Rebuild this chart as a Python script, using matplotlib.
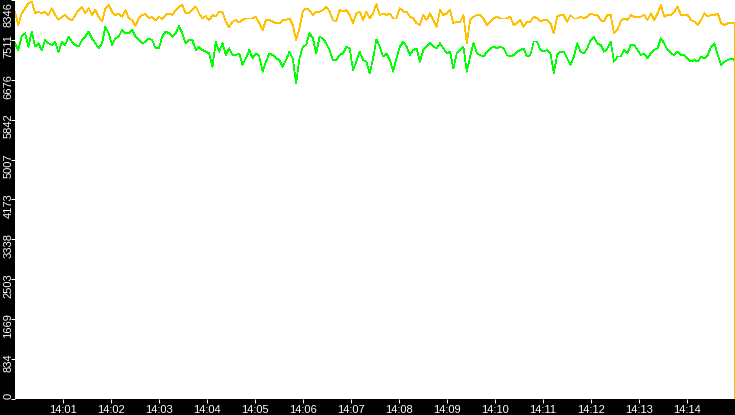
import numpy as np
import matplotlib
matplotlib.use('Agg')
import matplotlib.pyplot as plt
from matplotlib.transforms import offset_copy

plt.rcParams['font.family'] = ['Liberation Sans', 'DejaVu Sans']

# values, one sample every ~4 s from 14:00:00
orange = [
    8102, 7823, 8067, 8172, 8276, 8311, 8067, 8102, 8067, 8102,
    8032, 8172, 8032, 7928, 7997, 8032, 7962, 7914, 8032, 8137,
    8207, 8067, 8172, 8032, 8137, 7997, 7893, 8172, 8241, 8102,
    8032, 8067, 7997, 8137, 7962, 7928, 7802, 7962, 8032, 8053,
    7962, 7997, 7914, 7997, 7942, 8032, 8067, 8032, 8137, 8207,
    8241, 8067, 8067, 8137, 8207, 8067, 7962, 8011, 7914, 8032,
    7997, 8102, 8102, 7893, 7774, 7893, 7928, 7872, 7928, 7962,
    7962,
    7962, 7997, 7858, 7718, 7928, 7928, 7893, 7858, 7858, 7928,
    7928, 7962, 7823, 7509, 7753, 8102, 8172, 8137, 8032, 8102,
    8102, 8137, 8207, 8102, 7928, 7893, 8137, 8102, 8137, 8032,
    7858,
    8067, 8102, 7928, 8102, 7962, 8067, 8262, 8032, 8067, 8032,
    8067, 7962, 7962, 8172, 8102, 8102, 7997, 7962, 7858, 7823,
    8032, 7928, 8067, 7928, 7788, 8137, 8032, 8067, 8137, 7858,
    7893,
    7893, 8032, 7440, 7928, 7997, 8032, 8032, 7962, 7823, 7893,
    7962, 7997, 7962, 7962, 7962, 7997, 7823, 7858, 7928, 7788,
    7893, 7893, 7997, 7962, 7893, 7928, 7928, 7858, 7649, 7997,
    8032,
    8032, 7893, 8032, 7962, 7962, 7997, 7962, 7997, 8067, 8032,
    8032, 7928, 7893, 8032, 8032, 7649, 7718, 7893, 7962, 7928,
    8032, 7997, 7997, 7997, 8032, 7928, 8067, 7928, 8067, 8241,
    7997, 8032, 8032, 8102, 8207, 8032, 8032, 8032, 7928, 7893,
    7823, 7928, 8067, 7997, 8032, 8032, 8067, 7858, 7823, 7858,
    7858, 7858,
]

green = [
    7440, 7300, 7579, 7649, 7370, 7684, 7370, 7440, 7300, 7509,
    7440, 7405, 7475, 7265, 7475, 7405, 7579, 7475, 7405, 7370,
    7509, 7579, 7684, 7544, 7440, 7335, 7440, 7788, 7649, 7405,
    7544, 7579, 7718, 7649, 7649, 7718, 7579, 7509, 7440, 7475,
    7544, 7509, 7335, 7335, 7579, 7684, 7649, 7579, 7649, 7802,
    7649, 7440, 7509, 7509, 7300, 7370, 7300, 7265, 7230, 6951,
    7475, 7265, 7440, 7195, 7335, 7195, 7195, 7230, 6986, 7126,
    7300,
    7126, 7230, 7161, 6847, 7056, 7230, 7195, 7126, 7091, 6951,
    7091, 7265, 7126, 6603, 7126, 7370, 7405, 7649, 7544, 7230,
    7579, 7544, 7440, 7300, 7091, 7091, 7195, 7230, 7370, 7335,
    6882,
    7056, 7265, 7091, 7056, 6812, 7126, 7523, 7370, 7161, 7230,
    7091, 6847, 7126, 7370, 7475, 7370, 7195, 7300, 7335, 7056,
    7300, 7370, 7440, 7370, 7335, 7440, 7335, 7230, 7265, 6917,
    7230,
    7300, 7370, 6847, 7161, 7440, 7230, 7195, 7161, 7265, 7335,
    7370, 7335, 7370, 7335, 7195, 7161, 7195, 7265, 7300, 7335,
    7161, 7195, 7475, 7475, 7300, 7265, 7300, 7230, 6812, 7195,
    7265,
    7265, 7126, 6986, 7161, 7440, 7265, 7230, 7335, 7509, 7565,
    7440, 7405, 7265, 7335, 7475, 7056, 7161, 7161, 7300, 7230,
    7405, 7405, 7300, 7195, 7230, 7126, 7230, 7300, 7335, 7544,
    7440, 7300, 7230, 7195, 7265, 7195, 7195, 7126, 7056, 7091,
    7056, 7161, 7126, 7195, 7370, 7440, 7195, 6986, 7056, 7091,
    7126, 7091,
]

# last sample: both series fall off at the right edge
orange_end = 0
green_end = 3514

y_ticks = [0, 834, 1669, 2503, 3338, 4173, 5007, 5842, 6676, 7511, 8346]
x_ticks = [60, 120, 180, 240, 300, 360, 420, 480, 540, 600, 660, 720, 780, 840]
x_labels = ['14:01', '14:02', '14:03', '14:04', '14:05', '14:06', '14:07',
            '14:08', '14:09', '14:10', '14:11', '14:12', '14:13', '14:14']

t_last = 899.375
t_o = np.append(np.linspace(0, t_last, len(orange)), t_last)
t_g = np.append(np.linspace(0, t_last, len(green)), t_last)
yo = np.append(orange, orange_end)
yg = np.append(green, green_end)

fig = plt.figure(figsize=(7.35, 4.15), dpi=100, facecolor='black')
ax = fig.add_axes([15/735, 16/415, 720/735, 399/415])
ax.set_facecolor('white')

ax.plot(t_g, yg, color='#00ff00', lw=0.5, antialiased=False, zorder=2)
ax.plot(t_o, yo, color='#ffc000', lw=0.5, antialiased=False, zorder=3)

ax.set_xlim(0, 900)
ax.set_ylim(0, 8346)
for s in ax.spines.values():
    s.set_visible(False)

ax.set_xticks(x_ticks)
ax.set_xticklabels(x_labels)
ax.tick_params(axis='x', colors='white', length=3, width=0.75, pad=1.5, labelsize=8)

ax.set_yticks(y_ticks)
ax.set_yticklabels([])
ax.tick_params(axis='y', colors='white', length=3, width=0.75)

# rotated y labels, hanging below each tick like the original
ytrans = ax.get_yaxis_transform()
top = max(y_ticks)
for v in y_ticks:
    if v == top:
        tr = offset_copy(ax.transAxes, fig=fig, x=-1.5, y=-2, units='dots')
        ax.text(0, 1, str(v), transform=tr, rotation=90, ha='right', va='top',
                color='white', fontsize=8)
    else:
        tr = offset_copy(ytrans, fig=fig, x=-1.5, y=6, units='dots')
        ax.text(0, v, str(v), transform=tr, rotation=90, ha='right', va='top',
                color='white', fontsize=8)

fig.savefig('out.png', dpi=100, facecolor='black')
